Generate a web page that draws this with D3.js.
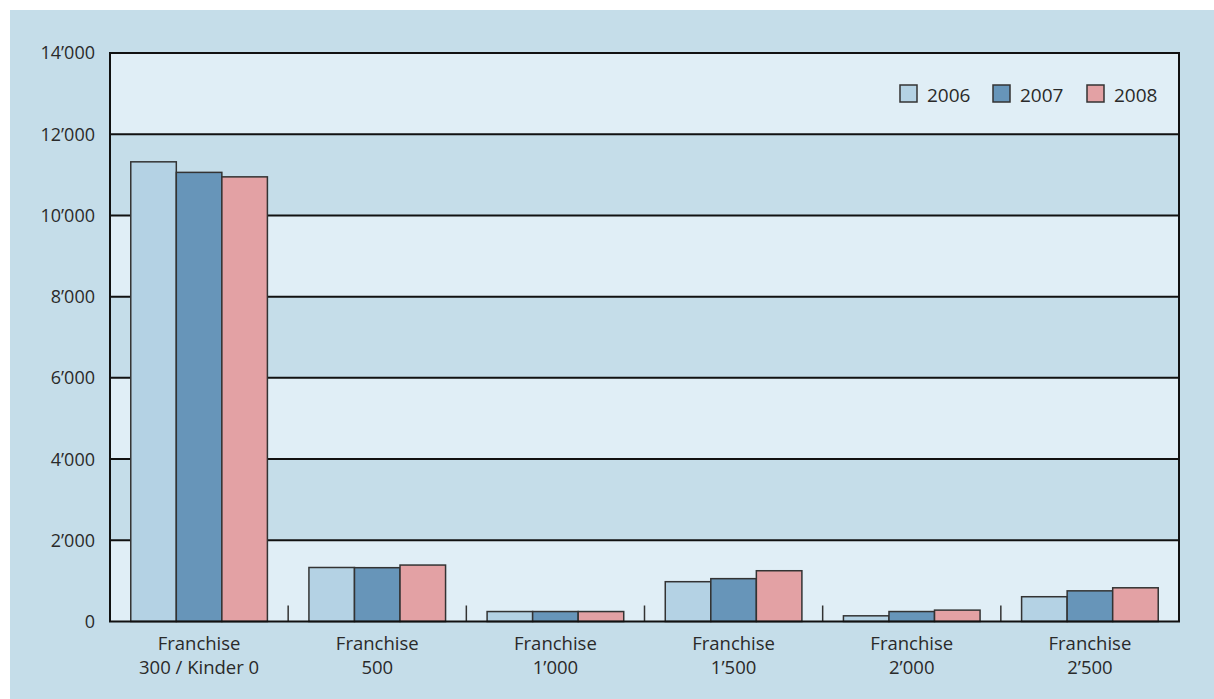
<!DOCTYPE html>
<html><head><meta charset="utf-8">
<script src="https://cdn.jsdelivr.net/npm/d3@7"></script>
<style>body{margin:0;background:#fff}svg{display:block}text{font-family:"Open Sans",sans-serif;fill:#2a2a2a}</style>
</head><body>
<svg id="c" width="1214" height="699"></svg>
<script>
const categories = ["Franchise\n300 / Kinder 0","Franchise\n500","Franchise\n1’000","Franchise\n1’500","Franchise\n2’000","Franchise\n2’500"];
const years = ["2006","2007","2008"];
const values2006 = [11320, 1330, 245, 980, 140, 610];
const values2007 = [11060, 1325, 245, 1055, 245, 755];
const values2008 = [10950, 1390, 245, 1250, 280, 830];
const yTicks = [0,2000,4000,6000,8000,10000,12000,14000];
const yTickLabels = ["0","2’000","4’000","6’000","8’000","10’000","12’000","14’000"];
const colors = ["#b4d2e4","#6795b9","#e3a1a4"];

const series = [values2006, values2007, values2008];
const svg = d3.select("#c");
const L=110, R=1179, T=53, B=621.5;
svg.append("rect").attr("x",10).attr("y",10).attr("width",1204).attr("height",689).attr("fill","#c5dde9");

const y = d3.scaleLinear().domain([0,14000]).range([B,T]);
const x0 = d3.scaleBand().domain(d3.range(categories.length)).range([L,R]).padding(0);
const x1 = d3.scaleBand().domain(years).range([0,x0.bandwidth()]).paddingInner(0).paddingOuter(0.456);

// bands
const bands = d3.range(yTicks.length-1);
svg.append("g").selectAll("rect").data(bands).join("rect")
  .attr("x",L).attr("width",R-L)
  .attr("y",i=>y(yTicks[i+1])).attr("height",i=>y(yTicks[i])-y(yTicks[i+1]))
  .attr("fill",i=>i%2===0?"#e0eef6":"#c5dde9");

// grid lines
svg.append("g").selectAll("line").data(yTicks.slice(1,-1)).join("line")
  .attr("x1",L).attr("x2",R).attr("y1",d=>y(d)).attr("y2",d=>y(d))
  .attr("stroke","#111").attr("stroke-width",2);

// separators ticks
svg.append("g").selectAll("line").data(d3.range(1,categories.length)).join("line")
  .attr("x1",i=>x0(i)).attr("x2",i=>x0(i)).attr("y1",B).attr("y2",B-16)
  .attr("stroke","#333").attr("stroke-width",1.5);

// bars
const g = svg.append("g");
categories.forEach((c,ci)=>{
  years.forEach((yr,si)=>{
    const v = series[si][ci];
    g.append("rect")
      .attr("x",x0(ci)+x1(yr)).attr("width",x1.bandwidth())
      .attr("y",y(v)).attr("height",y(0)-y(v))
      .attr("fill",colors[si]).attr("stroke","#333").attr("stroke-width",1.5);
  });
});

// frame
svg.append("rect").attr("x",L).attr("y",T).attr("width",R-L).attr("height",B-T)
  .attr("fill","none").attr("stroke","#111").attr("stroke-width",2);

// y axis labels
svg.append("g").selectAll("text").data(yTicks).join("text")
  .attr("x",95).attr("y",d=>y(d)).attr("dy","0.36em").attr("text-anchor","end")
  .attr("font-size",18).text((d,i)=>yTickLabels[i]);

// x labels
const xl = svg.append("g").selectAll("text").data(categories).join("text")
  .attr("text-anchor","middle").attr("font-size",18.5)
  .attr("x",(d,i)=>x0(i)+x0.bandwidth()/2).attr("y",650);
xl.each(function(d,i){
  const parts=d.split("\n");
  const t=d3.select(this);
  parts.forEach((p,k)=>t.append("tspan").attr("x",x0(i)+x0.bandwidth()/2).attr("y",650+k*24).text(p));
});

// legend
const legX=[900,993,1087];
const lg = svg.append("g");
years.forEach((yr,i)=>{
  lg.append("rect").attr("x",legX[i]).attr("y",85).attr("width",17).attr("height",17)
    .attr("fill",colors[i]).attr("stroke","#333").attr("stroke-width",1.5);
  lg.append("text").attr("x",legX[i]+27).attr("y",102).attr("font-size",19).text(yr);
});
</script>
</body></html>
